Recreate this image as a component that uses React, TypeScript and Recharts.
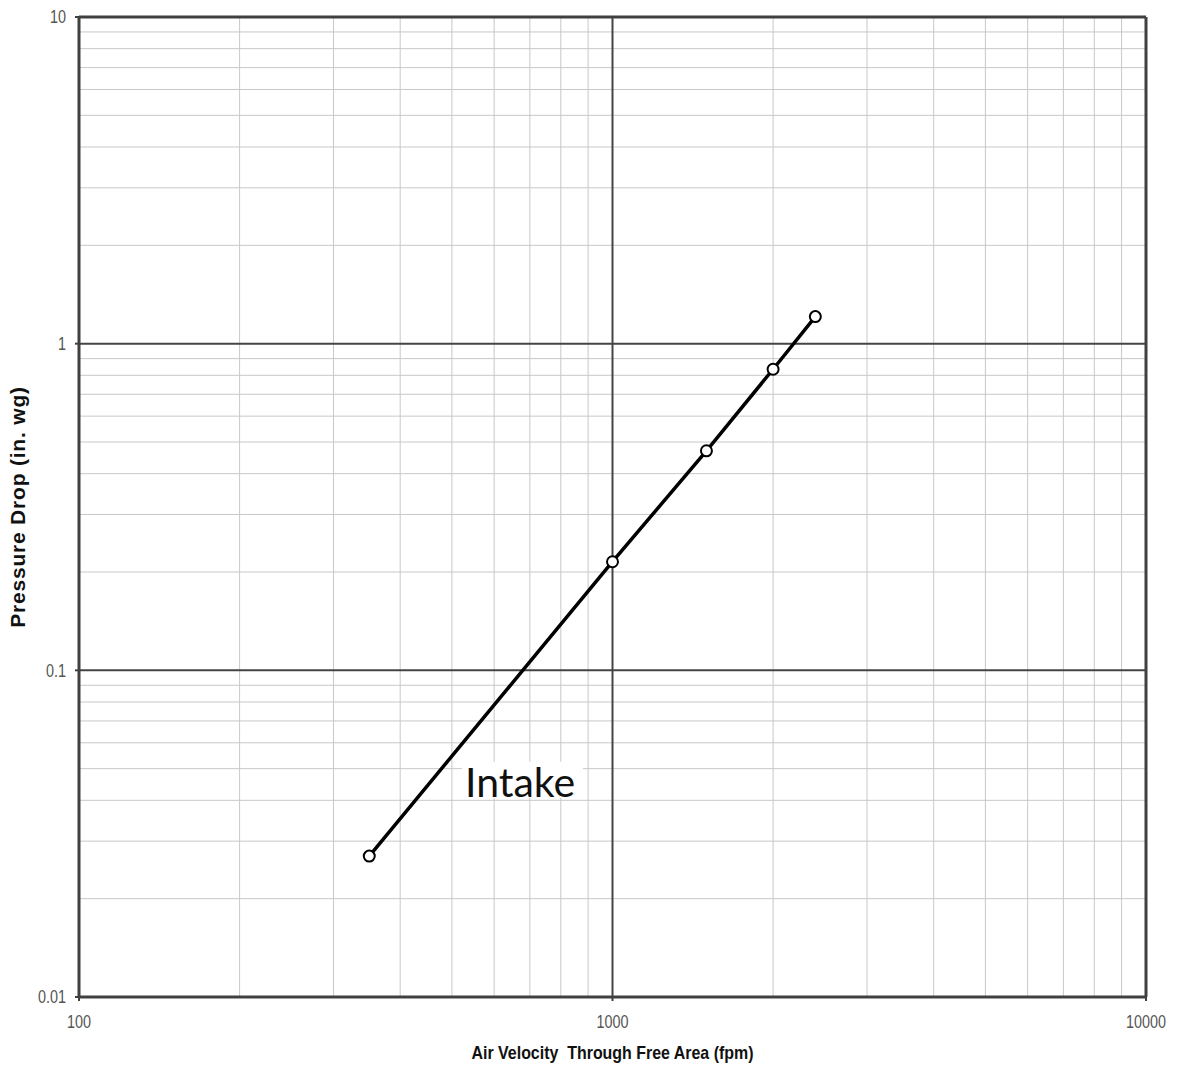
import { CartesianGrid, Line, LineChart, ReferenceDot, XAxis, YAxis } from "recharts";

// air velocity (fpm) vs pressure drop (in. wg)
const velocity = [350, 1000, 1500, 2000, 2400];
const pressure = [0.027, 0.215, 0.47, 0.835, 1.21];

const xTicks = [100, 1000, 10000];
const yTicks = [0.01, 0.1, 1, 10];

const xMinor = [200, 300, 400, 500, 600, 700, 800, 900, 2000, 3000, 4000, 5000, 6000, 7000, 8000, 9000];
const yMinor = [
  0.02, 0.03, 0.04, 0.05, 0.06, 0.07, 0.08, 0.09,
  0.2, 0.3, 0.4, 0.5, 0.6, 0.7, 0.8, 0.9,
  2, 3, 4, 5, 6, 7, 8, 9,
];
const xMajor = [1000];
const yMajor = [0.1, 1];
const xEdges = [100, 10000];
const yEdges = [0.01, 10];

const seriesLabel = "Intake";
const labelAt = { x: 529, y: 0.041 };

const data = velocity.map((v, i) => ({ v, p: pressure[i] }));

// no narrow font installed, so squeeze a regular one
const NarrowTick = ({ x, y, payload, textAnchor, dy }: any) => (
  <g transform={`translate(${x},${y}) scale(0.8,1)`}>
    <text
      x={0}
      y={0}
      dy={dy}
      textAnchor={textAnchor}
      fontFamily="'Liberation Sans', Arial, sans-serif"
      fontSize={18}
      fill="#555"
    >
      {String(payload.value)}
    </text>
  </g>
);

const XTick = (props: any) => <NarrowTick {...props} dy="0.71em" />;
const YTick = (props: any) => <NarrowTick {...props} dy="0.355em" />;

const YLabel = ({ viewBox }: any) => {
  const cx = viewBox.x + 25;
  const cy = viewBox.y + viewBox.height / 2;
  return (
    <text
      x={cx}
      y={cy}
      transform={`rotate(-90 ${cx} ${cy})`}
      textAnchor="middle"
      fontFamily="'Liberation Sans', Arial, sans-serif"
      fontWeight="bold"
      fontSize={21}
      letterSpacing={0.8}
      fill="#111"
    >
      Pressure Drop (in. wg)
    </text>
  );
};

const XLabel = ({ viewBox }: any) => (
  <text
    x={viewBox.x + viewBox.width / 2}
    y={viewBox.y + 62}
    textAnchor="middle"
    fontFamily="'Liberation Sans', Arial, sans-serif"
    fontWeight="bold"
    fontSize={19}
    textLength={282}
    lengthAdjust="spacingAndGlyphs"
    fill="#111"
    style={{ whiteSpace: "pre" }}
  >
    {"Air Velocity  Through Free Area (fpm)"}
  </text>
);

const IntakeLabel = ({ viewBox }: any) => {
  const x = viewBox.x + viewBox.width / 2;
  const y = viewBox.y + viewBox.height / 2;
  return (
    <g>
      <rect x={x - 3} y={y - 35} width={121} height={36} fill="#fff" />
      <text x={x} y={y} fontFamily="Lato, sans-serif" fontSize={41} fill="#111">
        {seriesLabel}
      </text>
    </g>
  );
};

export default function App() {
  return (
    <div style={{ position: "absolute", left: 0, top: 0, background: "#fff" }}>
      <LineChart
        width={1178}
        height={1069}
        data={data}
        margin={{ top: 17, right: 32, left: 0, bottom: 0 }}
      >
        <CartesianGrid
          stroke="#c8c8c8"
          strokeWidth={1}
          verticalValues={xMinor}
          horizontalValues={yMinor}
        />
        <CartesianGrid
          stroke="#444"
          strokeWidth={2}
          verticalValues={xMajor}
          horizontalValues={yMajor}
        />
        <CartesianGrid
          stroke="#404040"
          strokeWidth={3}
          verticalValues={xEdges}
          horizontalValues={yEdges}
        />
        <XAxis
          dataKey="v"
          type="number"
          scale="log"
          domain={[100, 10000]}
          allowDataOverflow
          ticks={xTicks}
          interval={0}
          height={72}
          axisLine={false}
          tickSize={4}
          tickMargin={14}
          tickLine={{ stroke: "#404040", strokeWidth: 2 }}
          tick={<XTick />}
          label={<XLabel />}
        />
        <YAxis
          type="number"
          scale="log"
          domain={[0.01, 10]}
          allowDataOverflow
          ticks={yTicks}
          interval={0}
          width={79}
          axisLine={false}
          tickSize={4}
          tickMargin={9}
          tickLine={{ stroke: "#404040", strokeWidth: 2 }}
          tick={<YTick />}
          label={<YLabel />}
        />
        <Line
          dataKey="p"
          stroke="#000"
          strokeWidth={3.5}
          isAnimationActive={false}
          dot={{ r: 5.5, fill: "#fff", stroke: "#000", strokeWidth: 2 }}
          activeDot={false}
        />
        <ReferenceDot
          x={labelAt.x}
          y={labelAt.y}
          r={0}
          fill="none"
          stroke="none"
          label={<IntakeLabel />}
        />
      </LineChart>
    </div>
  );
}
